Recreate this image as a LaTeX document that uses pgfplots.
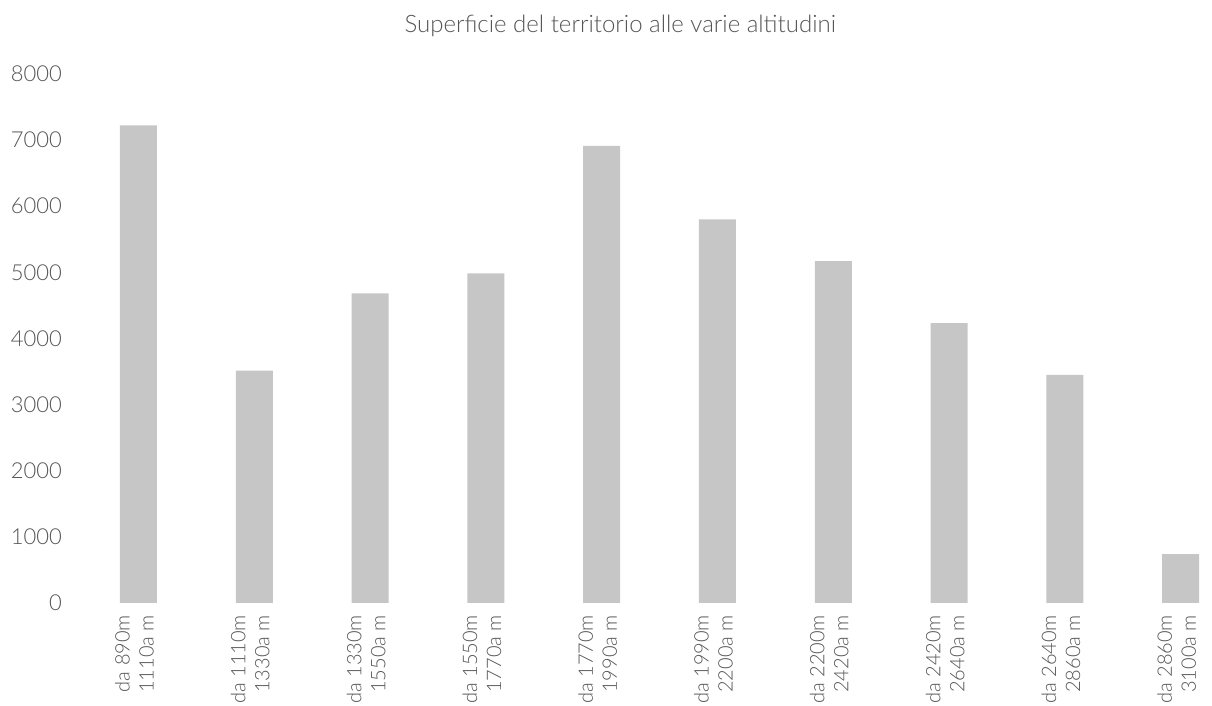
\documentclass[border=0pt]{standalone}
\usepackage{fontspec}
\setmainfont{Lato Light}
\usepackage{pgfplots}
\pgfplotsset{compat=1.18}
\definecolor{barc}{HTML}{C6C6C6}
\definecolor{txt}{HTML}{555555}
\begin{document}
\begin{tikzpicture}
\begin{axis}[
  x=57.9pt, y=0.033063pt,
  xmin=-0.6, xmax=9.28, ymin=0, ymax=8000,
  axis line style={draw=none},
  tick style={draw=none},
  ytick={0,1000,...,8000},
  xtick={0,...,9},
  xticklabels={{da 890m\\1110a m},{da 1110m\\1330a m},{da 1330m\\1550a m},{da 1550m\\1770a m},{da 1770m\\1990a m},{da 1990m\\2200a m},{da 2200m\\2420a m},{da 2420m\\2640a m},{da 2640m\\2860a m},{da 2860m\\3100a m}},
  xticklabel style={rotate=90, anchor=east, align=right, xshift=-2.5pt, yshift=2pt, font=\fontsize{10}{12}\selectfont, text=txt},
  yticklabel style={font=\fontsize{11}{13}\selectfont, text=txt},
  /pgf/number format/assume math mode=true,
  /pgf/number format/1000 sep={},
  clip=false,
]
\addplot[ybar, bar width=18.5pt, fill=barc, draw=none] coordinates {
  (0,7220) (1,3515) (2,4680) (3,4985) (4,6910) (5,5800) (6,5170) (7,4230) (8,3450) (9,740)
};
\node[font=\fontsize{12}{14}\selectfont, text=txt, anchor=base] at (axis cs:4.16,8620) {Superficie del territorio alle varie altitudini};
\coordinate (o) at (axis cs:0,0);
\end{axis}
\pgfresetboundingbox
\path[use as bounding box] ([shift={(-69.25pt,301.5pt)}]o) rectangle ([shift={(536.75pt,-51.5pt)}]o);
\end{tikzpicture}
\end{document}
